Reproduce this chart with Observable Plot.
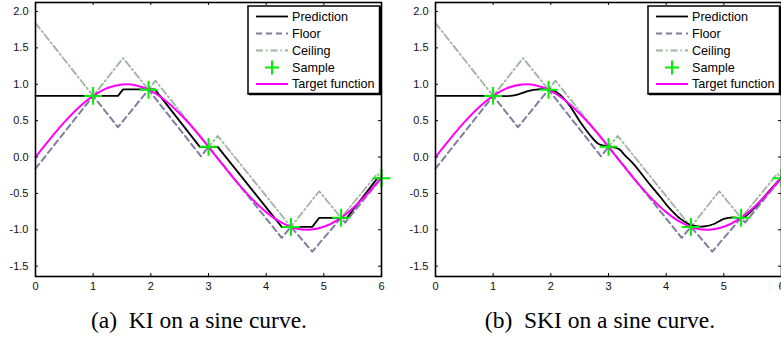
<!DOCTYPE html>
<html><head><meta charset="utf-8">
<script src="https://cdn.jsdelivr.net/npm/d3@7"></script>
<script src="https://cdn.jsdelivr.net/npm/@observablehq/plot@0.6"></script>
<style>
body{margin:0;background:#fff;overflow:hidden}
#wrap{position:relative;width:800px;height:342px;overflow:hidden}
.panel{position:absolute;top:0}
.cap{position:absolute;top:309px;width:400px;text-align:center;font-family:"Liberation Serif","Times New Roman",serif;font-size:23.5px;line-height:23.5px;white-space:pre;color:#000}
</style></head><body><div id="wrap"></div>
<script>
// ---- data ----
const xTicks = [0, 1, 2, 3, 4, 5, 6];
const yTicks = [-1.5, -1, -0.5, 0, 0.5, 1, 1.5, 2];

const sampleX = [1, 1.96, 3, 4.43, 5.3, 6];
const sampleY = [0.84, 0.925, 0.14, -0.96, -0.835, -0.29];

const targetX = [0, 0.25, 0.5, 0.75, 1, 1.25, 1.5, 1.75, 2, 2.25, 2.5, 2.75, 3, 3.25, 3.5, 3.75, 4, 4.25, 4.5, 4.75, 5, 5.25, 5.5, 5.75, 6];
const targetY = [0, 0.247, 0.479, 0.682, 0.841, 0.949, 0.997, 0.984, 0.909, 0.778, 0.598, 0.382, 0.141, -0.108, -0.351, -0.572, -0.757, -0.895, -0.978, -0.999, -0.959, -0.859, -0.706, -0.508, -0.279];

const ceilX = [0, 1, 1.52, 1.96, 2.08, 3, 3.16, 4.43, 4.92, 5.3, 5.93, 6];
const ceilY = [1.84, 0.84, 1.36, 0.925, 1.05, 0.14, 0.29, -0.96, -0.47, -0.835, -0.23, -0.29];

const floorX = [0, 1, 1.43, 1.96, 2.87, 3, 4.27, 4.43, 4.8, 5.3, 5.37, 6];
const floorY = [-0.16, 0.84, 0.41, 0.925, 0.01, 0.14, -1.11, -0.96, -1.30, -0.835, -0.90, -0.29];

const kiX = [0, 1.43, 1.52, 2.07, 2.85, 3.16, 4.27, 4.8, 4.92, 5.4, 5.93, 6];
const kiY = [0.84, 0.84, 0.93, 0.93, 0.14, 0.14, -0.96, -0.96, -0.835, -0.835, -0.29, -0.29];

const skiX = [0, 1.0, 1.3, 1.47, 1.62, 1.79, 1.99, 2.17, 2.34, 2.51, 2.66, 2.83, 3.01, 3.18, 3.29, 3.44, 3.73, 3.90, 4.02, 4.25, 4.45, 4.65, 4.83, 5.00, 5.17, 5.32, 5.52, 5.75, 6.0];
const skiY = [0.84, 0.84, 0.84, 0.87, 0.91, 0.93, 0.93, 0.85, 0.69, 0.48, 0.32, 0.18, 0.145, 0.11, 0.02, -0.10, -0.39, -0.55, -0.67, -0.85, -0.94, -0.955, -0.92, -0.85, -0.83, -0.84, -0.71, -0.50, -0.28];

const legendNames = ["Prediction", "Floor", "Ceiling", "Sample", "Target function"];
const captions = ["(a)\u00a0 KI on a sine curve.", "(b)\u00a0 SKI on a sine curve."];

// ---- styles ----
const C_PRED = "#000000", C_FLOOR = "#7e7e9e", C_CEIL = "#9db59d", C_SAMPLE = "#00ee00", C_TARGET = "#ff00ff";
const pts = (xs, ys) => xs.map((x, i) => ({x, y: ys[i]}));

function panel(predX, predY, smooth) {
  const W = 400, H = 295, mL = 35, mR = 19, mT = 2, mB = 19;
  const pw = W - mL - mR, ph = H - mT - mB, tk = 3;
  const svg = Plot.plot({
    width: W, height: H, marginLeft: mL, marginRight: mR, marginTop: mT, marginBottom: mB,
    x: {domain: [0, 6]},
    y: {domain: [-1.642, 2.124]},
    style: {fontFamily: "'Liberation Sans', Arial, sans-serif", fontSize: "11px", background: "white", color: "#111", overflow: "visible"},
    marks: [
      Plot.line(pts(floorX, floorY), {x: "x", y: "y", stroke: C_FLOOR, strokeWidth: 2, strokeDasharray: "6,4"}),
      Plot.line(pts(ceilX, ceilY), {x: "x", y: "y", stroke: C_CEIL, strokeWidth: 1.8, strokeDasharray: "7,3,1.5,3"}),
      Plot.line(pts(predX, predY), {x: "x", y: "y", stroke: C_PRED, strokeWidth: 1.8, curve: smooth ? "catmull-rom" : "linear"}),
      Plot.line(pts(targetX, targetY), {x: "x", y: "y", stroke: C_TARGET, strokeWidth: 2, curve: "catmull-rom"}),
      Plot.dot(pts(sampleX, sampleY), {x: "x", y: "y", symbol: "plus", r: 5.8, stroke: C_SAMPLE, strokeWidth: 2}),
      Plot.tickX(xTicks, {x: d => d, insetTop: ph - tk, stroke: "black"}),
      Plot.tickX(xTicks, {x: d => d, insetBottom: ph - tk, stroke: "black"}),
      Plot.tickY(yTicks, {y: d => d, insetRight: pw - tk, stroke: "black"}),
      Plot.tickY(yTicks, {y: d => d, insetLeft: pw - tk, stroke: "black"}),
      Plot.axisX(xTicks, {tickSize: 0, tickPadding: 6, tickFormat: d => String(d), label: null}),
      Plot.axisY(yTicks, {tickSize: 0, tickPadding: 7, tickFormat: d => d.toFixed(1), label: null}),
      Plot.frame({stroke: "black", strokeWidth: 1.6})
    ]
  });
  // legend
  const g = d3.select(svg).append("g").attr("text-anchor", "start");
  const lx = 248, ly = 6, lw = 132, lh = 88;
  g.append("rect").attr("x", lx).attr("y", ly).attr("width", lw).attr("height", lh)
    .attr("fill", "white").attr("stroke", "black").attr("stroke-width", 1.5);
  g.append("path").attr("d", `M${lx + lw},${ly + 1}V${ly + lh}H${lx + 1}`)
    .attr("fill", "none").attr("stroke", "black").attr("stroke-width", 2.5);
  const rows = [16.5, 33.5, 50.5, 67.5, 84];
  const styles = [
    {stroke: C_PRED, w: 1.8, dash: null},
    {stroke: C_FLOOR, w: 2, dash: "6,4"},
    {stroke: C_CEIL, w: 1.8, dash: "7,3,1.5,3"},
    null,
    {stroke: C_TARGET, w: 2, dash: null}
  ];
  legendNames.forEach((name, i) => {
    const y = rows[i], s = styles[i];
    if (s) {
      const ln = g.append("line").attr("x1", 256).attr("x2", 288).attr("y1", y).attr("y2", y)
        .attr("stroke", s.stroke).attr("stroke-width", s.w);
      if (s.dash) ln.attr("stroke-dasharray", s.dash);
    } else {
      g.append("path").attr("d", `M265,${y}h14M272,${y - 7}v14`).attr("stroke", C_SAMPLE).attr("stroke-width", 2);
    }
    g.append("text").attr("x", 292).attr("y", y).attr("dy", "0.35em").attr("text-anchor", "start")
      .attr("font-size", "12.6px").attr("fill", "#000").text(name);
  });
  return svg;
}

const wrap = document.getElementById("wrap");
[[kiX, kiY, false], [skiX, skiY, true]].forEach(([px, py, sm], i) => {
  const s = panel(px, py, sm);
  s.classList.add("panel");
  s.style.position = "absolute";
  s.style.left = (i * 400) + "px";
  s.style.top = "0px";
  wrap.appendChild(s);
  const c = document.createElement("div");
  c.className = "cap";
  c.style.left = (i === 0 ? -1 : 400) + "px";
  c.textContent = captions[i];
  wrap.appendChild(c);
});
</script></body></html>
